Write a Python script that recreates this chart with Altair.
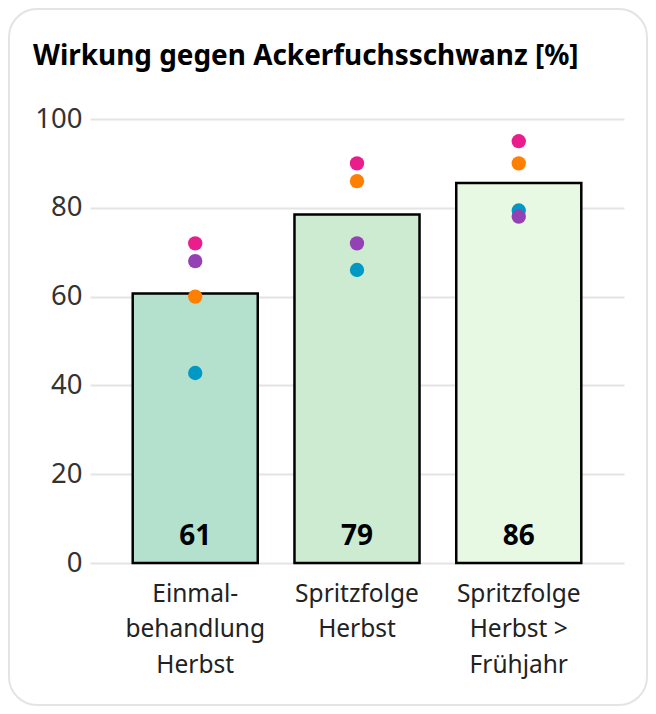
import altair as alt
import pandas as pd

# ---- data ----
title_text = "Wirkung gegen Ackerfuchsschwanz [%]"
categories = ["Einmal-|behandlung|Herbst", "Spritzfolge|Herbst", "Spritzfolge|Herbst >|Frühjahr"]
bar_values = [60.7, 78.5, 85.6]
bar_labels = ["61", "79", "86"]
bar_colors = ["#b3e1cd", "#cdebd1", "#e8f9e3"]

# dot series (drawn in this order)
series_names = ["Serie A", "Serie B", "Serie C", "Serie D"]
series_colors = ["#0099c6", "#ff7f00", "#9441b5", "#e91e8c"]
serie_a = [42.8, 66.0, 79.4]   # blue
serie_b = [60.0, 86.0, 90.0]   # orange
serie_c = [68.0, 72.0, 78.0]   # purple
serie_d = [72.0, 90.0, 95.0]   # pink

y_ticks = [0, 20, 40, 60, 80, 100]

# ---- tables ----
bars = pd.DataFrame({"cat": categories, "value": bar_values, "label": bar_labels})
rows = []
for name, vals in zip(series_names, [serie_a, serie_b, serie_c, serie_d]):
    for c, v in zip(categories, vals):
        rows.append({"cat": c, "series": name, "value": v})
dots = pd.DataFrame(rows)
dots["order"] = range(len(dots))

FONT = "Noto Sans"

x_enc = alt.X(
    "cat:N",
    sort=categories,
    scale=alt.Scale(paddingInner=0.227, paddingOuter=0.264),
    axis=alt.Axis(
        title=None, labelAngle=0, labelExpr="split(datum.label, '|')",
        domain=False, ticks=False, labelFontSize=24.5, labelColor="#222222",
        labelFont=FONT, labelPadding=19, labelLineHeight=35.5,
        labelBaseline="top",
    ),
)
y_scale = alt.Scale(domain=[0, 100], nice=False)
y_enc = alt.Y(
    "value:Q",
    scale=y_scale,
    axis=alt.Axis(
        title=None, values=y_ticks, domain=False, ticks=False,
        labelFontSize=27.5, labelColor="#333333", labelFont=FONT, labelPadding=8,
        gridColor="#e4e4e4", gridWidth=2,
    ),
)

frame = alt.Chart(pd.DataFrame({"k": [0]})).mark_rect(
    filled=False, stroke="#e4e4e4", strokeWidth=2, cornerRadius=28
).encode(
    x=alt.value(-81), x2=alt.value(557), y=alt.value(-110), y2=alt.value(586)
)

title_layer = alt.Chart(pd.DataFrame({"t": [title_text]})).mark_text(
    font=FONT, fontSize=27.9, fontWeight="bold", color="#000000",
    align="left", baseline="alphabetic",
).encode(
    x=alt.value(-57), y=alt.value(-54), text="t:N"
)

bar_layer = alt.Chart(bars).mark_bar(stroke="black", strokeWidth=2.5).encode(
    x=x_enc,
    y=y_enc,
    fill=alt.Fill("cat:N", scale=alt.Scale(domain=categories, range=bar_colors), legend=None),
)

text_layer = alt.Chart(bars).mark_text(
    font=FONT, fontSize=28, fontWeight="bold", color="black",
    baseline="alphabetic", dy=-18,
).encode(
    x=alt.X("cat:N", sort=categories),
    y=alt.datum(0),
    text="label:N",
)

dot_layer = alt.Chart(dots).mark_circle(size=205, opacity=1).encode(
    x=alt.X("cat:N", sort=categories),
    y=alt.Y("value:Q"),
    color=alt.Color("series:N", scale=alt.Scale(domain=series_names, range=series_colors), legend=None),
    order=alt.Order("order:Q"),
)

chart = alt.layer(frame, title_layer, bar_layer, text_layer, dot_layer).properties(
    width=534,
    height=444,
    padding={"left": 82, "top": 111, "right": 24, "bottom": 143},
    autosize=alt.AutoSizeParams(type="none"),
    background="white",
).configure_view(stroke=None)

chart.save("out.html", embed_options={"renderer": "svg", "actions": False})
